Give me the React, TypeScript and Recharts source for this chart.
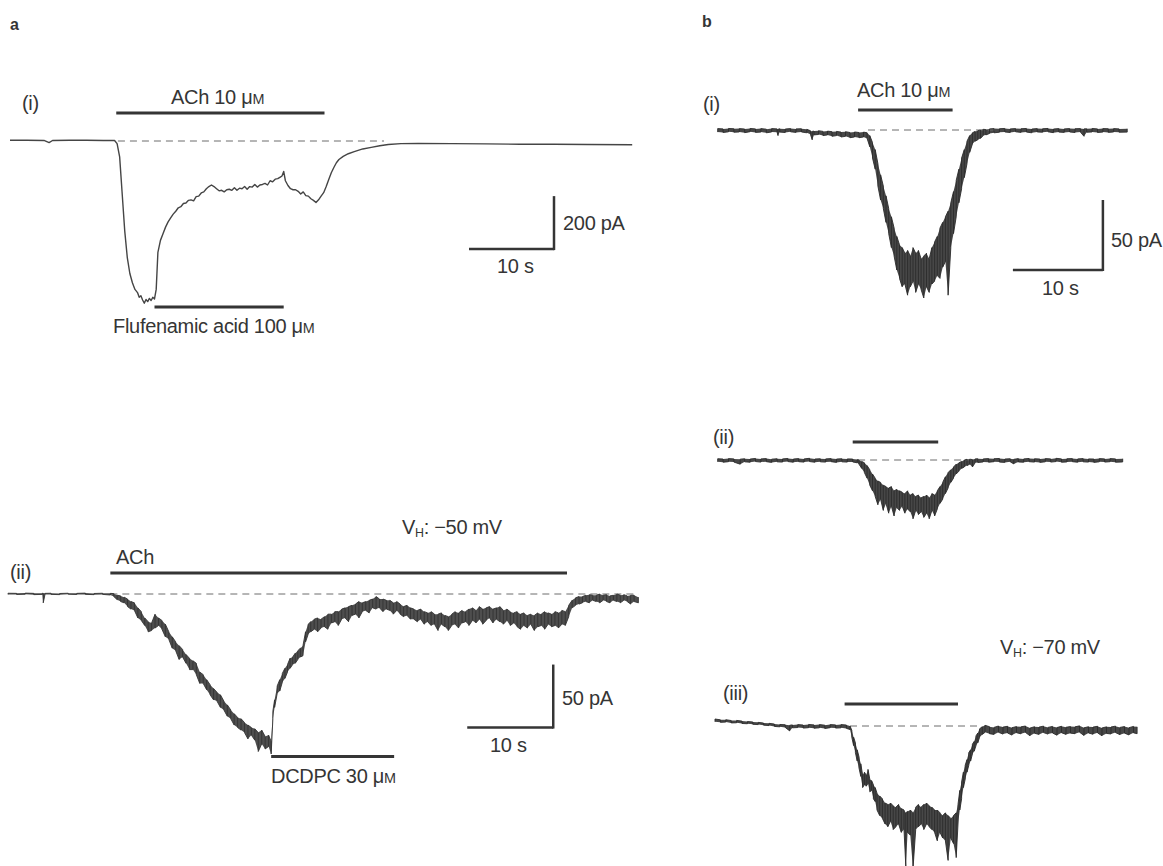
import React from 'react'
import { ComposedChart, Line, Area, XAxis, YAxis, ReferenceLine } from 'recharts'

type Pt = [number, number]
type Band = [number, number, number] // [time (s), lower edge (pA), upper edge (pA)]

// ---- a(i): single clean trace [time (s), current (pA)] ----
const traceAi: Pt[] = [
  [0, 3], [2, 3], [4, 2], [4.6, -6], [5, 2], [7, 3], [9, 3], [11, 2], [12.3, 2], [12.6, -10], [12.9, -60],
  [13.2, -200], [13.5, -340], [13.8, -440], [14.1, -500], [14.4, -535], [14.7, -560], [15.0, -572], [15.2, -590],
  [15.4, -584], [15.6, -600], [15.8, -612], [16.0, -598], [16.2, -606], [16.4, -594], [16.6, -602], [16.8, -590],
  [17.0, -596], [17.2, -560], [17.4, -420], [17.7, -375], [18.0, -350], [18.3, -325], [18.6, -305], [18.9, -290],
  [19.2, -276], [19.5, -265], [19.8, -252], [20.1, -248], [20.4, -236], [20.7, -234], [21.0, -224], [21.3, -222],
  [21.6, -226], [21.9, -210], [22.2, -208], [22.5, -196], [22.8, -192], [23.1, -180], [23.4, -172], [23.7, -166],
  [24.0, -172], [24.3, -180], [24.6, -188], [24.9, -186], [25.2, -192], [25.5, -184], [25.8, -182], [26.1, -186],
  [26.4, -176], [26.7, -186], [27.0, -178], [27.3, -180], [27.6, -172], [27.9, -182], [28.2, -172], [28.5, -174],
  [28.8, -164], [29.1, -174], [29.4, -166], [29.7, -164], [30.0, -160], [30.3, -166], [30.6, -150], [30.9, -154],
  [31.2, -144], [31.5, -142], [31.8, -136], [32.0, -132], [32.2, -115], [32.4, -150], [32.7, -168], [33.0, -180],
  [33.3, -184], [33.6, -184], [33.9, -190], [34.2, -200], [34.5, -192], [34.8, -206], [35.1, -208], [35.4, -218],
  [35.7, -224], [36.0, -232], [36.3, -222], [36.6, -208], [36.9, -195], [37.2, -172], [37.5, -145], [37.8, -120],
  [38.1, -100], [38.4, -82], [38.7, -70], [39.2, -58], [39.8, -48], [40.5, -40], [41.5, -30], [42.5, -24],
  [43.5, -18], [44.5, -13], [46, -10], [48, -9], [52, -10], [56, -11], [60, -12], [64, -12], [68, -13], [73.2, -14],
]

// ---- noisy traces as noise envelopes [time (s), low (pA), high (pA)] ----
const bandAii: Band[] = [
  [0, -0.3, 0.6], [1, -0.4, 0.5], [2, -0.2, 0.7], [3, -0.5, 0.5], [4, -0.3, 0.6], [4.1, -7, 0.5], [4.3, -0.4, 0.5],
  [5, -0.3, 0.6], [6, -0.5, 0.4], [7, -0.2, 0.6], [8, -0.4, 0.5], [9, -0.3, 0.7], [10, -0.5, 0.4], [11, -0.3, 0.6],
  [11.9, -0.8, 0.5], [12.3, -2, 0.3], [12.7, -4.5, -1], [13.1, -6, -1.5], [13.5, -7, -2.5], [13.9, -10, -4],
  [14.3, -12, -6], [14.7, -13, -7], [15.1, -19, -11], [15.5, -21, -14], [15.9, -25, -19], [16.3, -30, -22],
  [16.7, -29, -23], [17.1, -27, -16], [17.5, -25, -19], [17.9, -28, -21], [18.3, -34, -24], [18.7, -36, -30],
  [19.1, -43, -34], [19.5, -45, -38], [19.9, -52, -41], [20.3, -50, -44], [20.7, -55, -48], [21.1, -60, -51],
  [21.5, -60, -53], [21.9, -64, -55], [22.3, -71, -62], [22.7, -71, -64], [23.1, -76, -68], [23.5, -80, -72],
  [23.9, -84, -75], [24.3, -85, -78], [24.7, -90, -80], [25.1, -92, -85], [25.5, -97, -88], [25.9, -99, -92],
  [26.3, -104, -95], [26.7, -106, -98], [27.1, -108, -99], [27.5, -110, -102], [27.9, -115, -104],
  [28.3, -112, -106], [28.7, -116, -107], [29.1, -125, -110], [29.5, -119, -108], [29.9, -123, -113],
  [30.3, -121, -112], [30.6, -127, -117], [30.8, -99, -93], [31.0, -90, -84], [31.3, -79, -73], [31.6, -77, -68],
  [31.9, -70, -63], [32.2, -67, -59], [32.5, -62, -56], [32.8, -59, -51], [33.1, -56, -50], [33.4, -55, -47],
  [33.7, -52, -45], [34.0, -50, -43], [34.3, -49, -41], [34.6, -38, -30], [34.9, -32, -24], [35.2, -30, -22],
  [35.6, -28, -20], [36.0, -30, -19], [36.4, -27, -20], [36.8, -26, -18], [37.2, -28, -16], [37.6, -23, -16],
  [38.0, -22, -14], [38.4, -25, -14], [38.8, -20, -12], [39.2, -19, -11], [39.6, -22, -10], [40.0, -17, -9],
  [40.4, -16, -8], [40.8, -19, -6], [41.2, -14, -7], [41.6, -13, -6], [42.0, -15, -5], [42.4, -11, -4],
  [42.8, -12, -2], [43.2, -11, -4], [43.6, -14, -4], [44.0, -12, -5], [44.4, -13, -5], [44.8, -16, -7],
  [45.2, -13, -6], [45.6, -16, -8], [46.0, -18, -10], [46.4, -17, -9], [46.8, -20, -11], [47.2, -20, -12],
  [47.6, -22, -13], [48.0, -20, -12], [48.4, -24, -14], [48.8, -22, -15], [49.2, -25, -14], [49.6, -24, -16],
  [50.0, -29, -16], [50.4, -24, -15], [50.8, -26, -17], [51.2, -29, -18], [51.6, -25, -16], [52.0, -24, -14],
  [52.4, -27, -15], [52.8, -23, -13], [53.2, -22, -14], [53.6, -25, -12], [54.0, -21, -11], [54.4, -23, -13],
  [54.8, -20, -10], [55.2, -24, -12], [55.6, -21, -11], [56.0, -19, -10], [56.4, -23, -12], [56.8, -20, -11],
  [57.2, -22, -10], [57.6, -24, -13], [58.0, -21, -12], [58.4, -25, -14], [58.8, -23, -15], [59.2, -26, -14],
  [59.6, -28, -16], [60.0, -25, -15], [60.4, -27, -17], [60.8, -24, -16], [61.2, -29, -17], [61.6, -26, -15],
  [62.0, -25, -16], [62.4, -28, -14], [62.8, -24, -15], [63.2, -26, -16], [63.6, -25, -14], [64.0, -27, -15],
  [64.4, -24, -13], [64.8, -25, -14], [65.2, -18, -9], [65.6, -11, -5], [66.0, -9, -3], [66.4, -8, -2],
  [66.8, -7, -2], [67.2, -6, -1], [67.6, -7, -0.5], [68.0, -5, -1], [68.4, -6, -1], [68.8, -7, 0], [69.2, -5, -1],
  [69.6, -6, -0.5], [70.0, -7, -1.5], [70.4, -5, -1], [70.8, -6, 0], [71.2, -7, -1], [71.6, -5, -0.5],
  [72.0, -6, -1.5], [72.4, -8, -1], [72.8, -6, -1], [73.3, -7, -2.5],
]

const bandBi: Band[] = [
  [0.3, -1.5, 1], [0.9, -1.8, 0.8], [1.5, -1.3, 1.1], [2.1, -1.6, 0.9], [2.7, -1.4, 1], [3.3, -1.9, 0.7],
  [3.9, -1.2, 1.1], [4.5, -1.7, 0.8], [5.1, -1.5, 1], [5.7, -2, 0.6], [6.3, -1.4, 1], [6.9, -1.6, 0.8], [7.0, -4, 0.5],
  [7.2, -1.5, 0.9], [7.8, -1.8, 0.7], [8.4, -1.3, 1], [9.0, -1.7, 0.8], [9.6, -1.4, 0.9], [10.2, -2, 0.5],
  [10.6, -3, -0.5], [10.8, -7, -1], [11.0, -3.5, -0.8], [11.5, -3.2, -0.5], [12.0, -4, -1], [12.5, -3.5, -0.8],
  [13.0, -4.5, -1.2], [13.5, -4, -1], [14.0, -5, -1.5], [14.5, -4.5, -1.2], [15.0, -5.5, -1.8], [15.5, -5, -1.4],
  [16.0, -5.5, -1.8], [16.5, -5, -1.5], [16.9, -6, -2], [17.2, -12, -4], [17.5, -20, -9], [17.8, -28, -14],
  [18.1, -40, -24], [18.4, -50, -32], [18.7, -56, -40], [19.0, -66, -47], [19.3, -74, -56], [19.6, -84, -62],
  [19.9, -90, -70], [20.2, -100, -76], [20.5, -106, -82], [20.8, -112, -84], [21.1, -110, -88], [21.4, -118, -86],
  [21.7, -112, -90], [22.0, -108, -84], [22.3, -116, -88], [22.6, -110, -86], [22.9, -114, -92], [23.2, -120, -90],
  [23.5, -112, -88], [23.8, -116, -92], [24.1, -110, -84], [24.4, -108, -80], [24.7, -104, -76], [25.0, -106, -70],
  [25.3, -98, -66], [25.6, -94, -62], [25.9, -118, -58], [26.2, -84, -52], [26.5, -74, -44], [26.8, -62, -36],
  [27.1, -52, -28], [27.4, -42, -20], [27.7, -34, -14], [28.0, -24, -8], [28.3, -16, -4], [28.6, -10, -2],
  [28.9, -8, -1], [29.2, -7, -0.5], [29.5, -6, 0], [29.8, -4, 0.5], [30.1, -3.5, 0.3], [30.5, -2.5, 0.8],
  [31.0, -2, 1], [31.6, -1.6, 0.9], [32.2, -1.4, 1.1], [32.8, -1.8, 0.8], [33.4, -1.3, 1], [34.0, -1.7, 0.9],
  [34.6, -1.5, 1.1], [35.2, -2, 0.7], [35.8, -1.4, 1], [36.4, -1.6, 0.9], [37.0, -1.3, 1.1], [37.6, -1.9, 0.7],
  [38.2, -1.5, 1], [38.8, -1.7, 0.8], [39.4, -1.4, 1], [40.0, -1.8, 0.9], [40.6, -1.5, 1], [41.0, -4.5, 0.8],
  [41.3, -1.6, 0.9], [41.9, -1.4, 1.1], [42.5, -1.8, 0.8], [43.1, -1.5, 1], [43.7, -1.7, 0.9], [44.3, -1.4, 1],
  [44.9, -1.6, 0.8], [45.8, -1.5, 0.9],
]

const bandBii: Band[] = [
  [0.3, -1.3, 0.9], [0.9, -1.6, 0.7], [1.5, -1.2, 1], [2.1, -1.5, 0.8], [2.8, -3, 0.6], [3.3, -1.3, 0.9],
  [3.9, -1.6, 0.7], [4.5, -1.1, 1.1], [5.1, -1.5, 0.8], [5.7, -1.2, 1], [6.3, -1.7, 0.6], [6.9, -1.3, 0.9],
  [7.5, -1.5, 0.8], [8.1, -1.1, 1.1], [8.7, -1.6, 0.7], [9.3, -1.2, 1], [9.9, -1.5, 0.8], [10.5, -1.1, 1.2],
  [11.1, -1.6, 0.7], [11.7, -1.3, 0.9], [12.3, -1.5, 0.8], [12.9, -1.2, 1], [13.5, -1.7, 0.7], [14.1, -1.3, 0.9],
  [14.7, -1.5, 0.8], [15.3, -1.4, 0.7], [15.8, -2, 0.3], [16.0, -3, 0], [16.3, -6, -1], [16.6, -9, -2],
  [16.9, -13, -4], [17.2, -18, -7], [17.5, -22, -10], [17.8, -26, -13], [18.1, -32, -15], [18.4, -28, -16],
  [18.7, -36, -18], [19.0, -31, -19], [19.3, -38, -20], [19.6, -33, -19], [19.9, -40, -22], [20.2, -34, -21],
  [20.5, -36, -22], [20.8, -33, -23], [21.1, -38, -24], [21.4, -35, -22], [21.7, -37, -25], [22.0, -42, -24],
  [22.3, -36, -26], [22.6, -39, -25], [22.9, -37, -27], [23.2, -41, -26], [23.5, -38, -25], [23.8, -42, -27],
  [24.1, -36, -24], [24.4, -40, -25], [24.7, -35, -22], [25.0, -31, -19], [25.3, -28, -16], [25.6, -24, -12],
  [25.9, -20, -9], [26.2, -16, -7], [26.5, -13, -5], [26.8, -10, -3], [27.1, -8, -2], [27.4, -6, -1], [27.7, -5, 0],
  [28.0, -4, 0.5], [28.3, -3, 0.6], [28.6, -5, 0.3], [28.9, -2, 0.8], [29.2, -1.8, 0.9], [29.8, -1.4, 0.8],
  [30.4, -1.6, 1], [31.0, -1.2, 0.9], [31.6, -1.5, 1.1], [32.2, -1.7, 0.7], [32.8, -1.3, 0.9], [33.2, -2.8, 0.5],
  [33.7, -1.4, 1], [34.3, -1.6, 0.8], [34.9, -1.2, 1.1], [35.5, -1.5, 0.9], [36.1, -1.7, 0.7], [36.7, -1.3, 1],
  [37.3, -1.5, 0.8], [37.9, -1.1, 1.2], [38.5, -1.6, 0.8], [39.1, -1.4, 0.9], [39.7, -1.2, 1], [40.3, -1.6, 0.8],
  [40.9, -1.3, 1], [41.5, -1.5, 0.8], [42.1, -1.7, 0.7], [42.7, -1.3, 1], [43.3, -1.5, 0.8], [43.9, -1.2, 1],
  [44.5, -1.6, 0.8], [45.3, -1.4, 0.9],
]

const bandBiii: Band[] = [
  [0, 3, 5], [0.6, 2.6, 4.4], [1.2, 2.8, 4.5], [1.8, 2.2, 3.9], [2.4, 2.3, 4], [3.0, 1.8, 3.5], [3.6, 1.6, 3.2],
  [4.2, 1.2, 2.9], [4.8, 1, 2.6], [5.4, 0.6, 2.1], [6.0, 0.3, 1.9], [6.6, -0.3, 1.4], [7.2, -0.6, 1.1],
  [7.8, -1, 0.9], [8.3, -3.5, 0.5], [8.6, -1.3, 0.8], [9.2, -1.1, 1], [9.8, -1.5, 0.7], [10.4, -1.2, 1.1],
  [11.0, -1.6, 0.8], [11.6, -1.3, 1], [12.2, -1.8, 0.6], [12.8, -1.2, 1], [13.4, -1.5, 0.8], [14.0, -1.3, 1],
  [14.6, -1.7, 0.7], [15.0, -2.5, 0], [15.2, -8, -3], [15.4, -14, -8], [15.6, -19, -12], [15.8, -25, -17],
  [16.0, -30, -22], [16.2, -36, -27], [16.4, -44, -35], [16.6, -42, -33], [16.8, -43, -35], [17.0, -41, -31],
  [17.2, -47, -38], [17.4, -46, -39], [17.6, -52, -42], [17.8, -54, -44], [18.0, -60, -48], [18.3, -64, -50],
  [18.6, -66, -52], [18.9, -70, -55], [19.2, -72, -56], [19.5, -68, -55], [19.8, -74, -57], [20.1, -72, -58],
  [20.4, -70, -56], [20.7, -76, -59], [21.0, -74, -60], [21.2, -100, -62], [21.4, -76, -61], [21.7, -78, -60],
  [22.0, -102, -62], [22.3, -74, -58], [22.6, -72, -56], [22.9, -70, -58], [23.2, -74, -56], [23.5, -70, -55],
  [23.8, -72, -57], [24.1, -74, -58], [24.4, -76, -60], [24.7, -82, -60], [25.0, -76, -62], [25.3, -80, -64],
  [25.6, -82, -62], [25.9, -96, -64], [26.2, -80, -66], [26.5, -84, -64], [26.8, -94, -62], [27.0, -70, -56],
  [27.2, -60, -46], [27.4, -52, -40], [27.6, -44, -33], [27.8, -38, -28], [28.0, -33, -24], [28.2, -28, -19],
  [28.4, -25, -17], [28.6, -20, -13], [28.8, -18, -11], [29.0, -14, -7], [29.2, -12, -5], [29.4, -8, -2],
  [29.7, -6, -0.5], [30.0, -4.5, 0.5], [30.5, -5.5, -0.5], [31.0, -6, -1], [31.5, -4.5, 0], [32.0, -5.8, -0.8],
  [32.5, -5, -0.2], [33.0, -6.5, -1.2], [33.5, -4.8, -0.4], [34.0, -5.6, -0.6], [34.5, -4.6, 0], [35.0, -7, -1.5],
  [35.5, -5.2, -0.5], [36.0, -6, -0.8], [36.5, -4.7, -0.1], [37.0, -5.8, -1], [37.5, -5, -0.3], [38.0, -6.6, -1.1],
  [38.5, -4.8, -0.2], [39.0, -6, -0.9], [39.5, -5.1, -0.4], [40.0, -5.5, -0.6], [40.5, -4.4, 0.1], [41.0, -6.8, -1.3],
  [41.5, -5, -0.5], [42.0, -5.9, -0.8], [42.5, -4.9, -0.2], [43.0, -7, -1.4], [43.5, -5.3, -0.6], [44.0, -5.7, -0.7],
  [44.5, -4.7, -0.1], [45.0, -6.2, -1], [45.5, -5.1, -0.4], [46.0, -6.4, -1.2], [46.5, -4.9, -0.3], [46.9, -5.5, -0.6],
]

type Seg = [number, number, number] // [on (s), off (s), drawn at current level (pA)]

// drug applications
const achAi: Seg = [12.5, 37, 106]
const flufenamicAi: Seg = [17, 32.2, -626]
const achAii: Seg = [11.9, 65, 16.7]
const dcdpcAii: Seg = [30.6, 44.9, -129]
const achBi: Seg = [15.9, 26.4, 14.3]
const achBii: Seg = [15.3, 24.8, 12.9]
const achBiii: Seg = [14.4, 27, 15.7]

// zero-current dashed lines: [from (s), to (s)]
const zeroAi: [number, number] = [12.7, 44]
const zeroAii: [number, number] = [11.9, 73.3]
const zeroBi: [number, number] = [17, 31.5]
const zeroBii: [number, number] = [15.9, 28.2]
const zeroBiii: [number, number] = [15, 29.6]

// scale bars: [corner t (s), corner I (pA), seconds, pA]
const scaleAi = [64, -408, 10, 200]
const scaleAii = [63.4, -106, 10, 50]
const scaleBi = [43.1, -100, 10, 50]

type Panel = {
  box: { left: number; top: number; width: number; height: number }
  x0: number
  pxPerSec: number
  y0: number
  pxPerPA: number
  line?: Pt[]
  band?: Band[]
  bars: Seg[]
  zero: [number, number]
  scale?: number[]
  stroke: string
  fill?: string
  strokeWidth: number
}

const INK = '#353535'
const FONT = '"Liberation Sans", Arial, Helvetica, sans-serif'

function TracePanel({ p }: { p: Panel }) {
  const { box } = p
  const xDomain = [(box.left - p.x0) / p.pxPerSec, (box.left + box.width - p.x0) / p.pxPerSec]
  const yDomain = [-(box.top + box.height - p.y0) / p.pxPerPA, (p.y0 - box.top) / p.pxPerPA]
  // noisy records: envelope filled, each sample also stroked from low to high
  const data = p.line
    ? p.line.map(([t, i]) => ({ t, i }))
    : (p.band ?? []).flatMap(([t, lo, hi], k) =>
        k % 2 === 0
          ? [{ t, band: [lo, hi], i: lo }, { t, band: [lo, hi], i: hi }]
          : [{ t, band: [lo, hi], i: hi }, { t, band: [lo, hi], i: lo }]
      )
  return (
    <div style={{ position: 'absolute', left: box.left, top: box.top }}>
      <ComposedChart width={box.width} height={box.height} data={data} margin={{ top: 0, right: 0, bottom: 0, left: 0 }}>
        <XAxis dataKey="t" type="number" domain={xDomain} allowDataOverflow hide />
        <YAxis type="number" domain={yDomain} allowDataOverflow hide />
        <ReferenceLine
          segment={[{ x: p.zero[0], y: 0 }, { x: p.zero[1], y: 0 }]}
          stroke="#6d6d6d"
          strokeWidth={1}
          strokeDasharray="7 5"
        />
        {p.bars.map(([on, off, lvl], k) => (
          <ReferenceLine key={k} segment={[{ x: on, y: lvl }, { x: off, y: lvl }]} stroke={INK} strokeWidth={3} />
        ))}
        {p.scale && (
          <ReferenceLine
            segment={[{ x: p.scale[0] - p.scale[2], y: p.scale[1] }, { x: p.scale[0], y: p.scale[1] }]}
            stroke={INK}
            strokeWidth={2.5}
          />
        )}
        {p.scale && (
          <ReferenceLine
            segment={[{ x: p.scale[0], y: p.scale[1] - 1 / p.pxPerPA }, { x: p.scale[0], y: p.scale[1] + p.scale[3] }]}
            stroke={INK}
            strokeWidth={2.5}
          />
        )}
        {p.band && (
          <Area
            dataKey="band"
            type="linear"
            stroke="none"
            fill={p.fill}
            fillOpacity={1}
            dot={false}
            activeDot={false}
            isAnimationActive={false}
          />
        )}
        <Line
          dataKey="i"
          type="linear"
          dot={false}
          activeDot={false}
          stroke={p.stroke}
          strokeWidth={p.strokeWidth}
          strokeLinejoin="round"
          isAnimationActive={false}
        />
      </ComposedChart>
    </div>
  )
}

function Txt({ x, y, size = 20, bold, children }: { x: number; y: number; size?: number; bold?: boolean; children: React.ReactNode }) {
  return (
    <div
      style={{
        position: 'absolute',
        left: x,
        top: y,
        transform: 'translateY(-50%)',
        fontFamily: FONT,
        fontSize: size,
        fontWeight: bold ? 700 : 400,
        color: INK,
        lineHeight: 1,
        whiteSpace: 'nowrap',
        letterSpacing: -0.3,
      }}
    >
      {children}
    </div>
  )
}

const uM = (
  <>
    μ<span style={{ fontSize: '0.72em' }}>M</span>
  </>
)
const VH = (
  <>
    V<sub style={{ fontSize: '0.62em', verticalAlign: '-0.25em' }}>H</sub>
  </>
)

const panels: Panel[] = [
  {
    box: { left: 0, top: 90, width: 650, height: 250 },
    x0: 10, pxPerSec: 8.5, y0: 141, pxPerPA: 0.265,
    line: traceAi, bars: [achAi, flufenamicAi], zero: zeroAi, scale: scaleAi,
    stroke: '#454545', strokeWidth: 1.4,
  },
  {
    box: { left: 0, top: 560, width: 650, height: 210 },
    x0: 8, pxPerSec: 8.6, y0: 594, pxPerPA: 1.26,
    band: bandAii, bars: [achAii, dcdpcAii], zero: zeroAii, scale: scaleAii,
    stroke: '#333', fill: '#4e4e4e', strokeWidth: 0.9,
  },
  {
    box: { left: 690, top: 95, width: 473, height: 215 },
    x0: 715, pxPerSec: 9, y0: 130, pxPerPA: 1.4,
    band: bandBi, bars: [achBi], zero: zeroBi, scale: scaleBi,
    stroke: '#2b2b2b', fill: '#474747', strokeWidth: 0.9,
  },
  {
    box: { left: 690, top: 430, width: 473, height: 100 },
    x0: 715, pxPerSec: 9, y0: 460, pxPerPA: 1.4,
    band: bandBii, bars: [achBii], zero: zeroBii,
    stroke: '#2b2b2b', fill: '#474747', strokeWidth: 0.9,
  },
  {
    box: { left: 690, top: 690, width: 473, height: 176 },
    x0: 715, pxPerSec: 9, y0: 726, pxPerPA: 1.4,
    band: bandBiii, bars: [achBiii], zero: zeroBiii,
    stroke: '#2b2b2b', fill: '#474747', strokeWidth: 0.9,
  },
]

export default function App() {
  return (
    <div style={{ position: 'absolute', left: 0, top: 0, width: 1163, height: 866, background: '#fff', overflow: 'hidden' }}>
      {panels.map((p, k) => (
        <TracePanel key={k} p={p} />
      ))}

      <Txt x={10} y={25} size={16} bold>a</Txt>
      <Txt x={22} y={103}>(i)</Txt>
      <Txt x={171} y={97}>ACh 10 {uM}</Txt>
      <Txt x={113} y={326}>Flufenamic acid 100 {uM}</Txt>
      <Txt x={563} y={223}>200 pA</Txt>
      <Txt x={497} y={266}>10 s</Txt>

      <Txt x={402} y={528}>{VH}: −50 mV</Txt>
      <Txt x={10} y={572}>(ii)</Txt>
      <Txt x={116} y={557}>ACh</Txt>
      <Txt x={562} y={698}>50 pA</Txt>
      <Txt x={490} y={745}>10 s</Txt>
      <Txt x={271} y={776}>DCDPC 30 {uM}</Txt>

      <Txt x={702} y={22} size={16} bold>b</Txt>
      <Txt x={703} y={104}>(i)</Txt>
      <Txt x={857} y={90}>ACh 10 {uM}</Txt>
      <Txt x={1111} y={240}>50 pA</Txt>
      <Txt x={1042} y={288}>10 s</Txt>
      <Txt x={713} y={437}>(ii)</Txt>
      <Txt x={1000} y={648}>{VH}: −70 mV</Txt>
      <Txt x={723} y={693}>(iii)</Txt>
    </div>
  )
}
